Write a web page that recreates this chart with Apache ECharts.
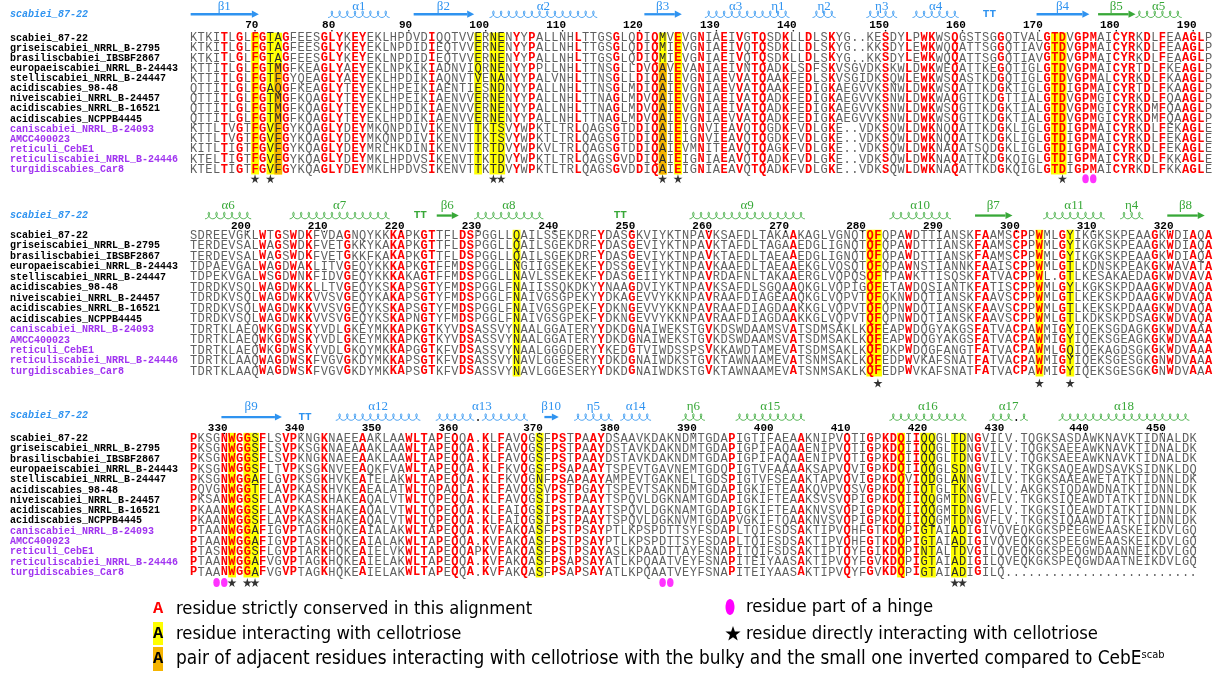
<!DOCTYPE html>
<html>
<head>
<meta charset="utf-8">
<title>CebE alignment</title>
<script src="https://cdn.jsdelivr.net/npm/echarts/dist/echarts.min.js"></script>
<style>
  html, body { margin: 0; padding: 0; background: #fff; }
  #chart { width: 1219px; height: 674px; }
</style>
</head>
<body>
<div id="chart"></div>
<script>
'use strict';

// sequences, in the order of the alignment
var NAMES = [
    'scabiei_87-22', 'griseiscabiei_NRRL_B-2795', 'brasiliscbabiei_IBSBF2867',
    'europaeiscabiei_NRRL_B-24443', 'stelliscabiei_NRRL_B-24447', 'acidiscabies_98-48',
    'niveiscabiei_NRRL_B-24457', 'acidiscabies_NRRL_B-16521', 'acidiscabies_NCPPB4445',
    'caniscabiei_NRRL_B-24093', 'AMCC400023', 'reticuli_CebE1',
    'reticuliscabiei_NRRL_B-24446', 'turgidiscabies_Car8'
];
var GROUPS = [0, 0, 0, 0, 0, 0, 0, 0, 0, 1, 1, 1, 1, 1];
var REFERENCE = 'scabiei_87-22';
var FIRST_RESIDUE = 62;

var BLOCK1 = [
    'KTKITLGLFGTAGFEESGLYKEYEKLHPDVDIQQTVVERNENYYPALLNHLTTGSGLQDIQMVEVGNIAEIVGTQSDKLLDLSKYG..KESDYLPWKWSQGSTSGGQTVALGTDVGPMAICYRKDLFEAAGLP',
    'KTKITLGLFGTAGFEESGLYKEYEKLNPDIDIEQTVVERNENYYPALLNHLTTGSGLQDIQMIEVGNIAEIVQTQSDKLLDLSKYG..KKSDYLEWKWQQATTSGGQTIAVGTDVGPMAICYRKDLFEAAGLP',
    'KTKITLGLFGTAGFEESGLYKEYEKLNPDIDIEQTVVERNENYYPALLNHLTTGSGLQDIQMIEVGNIAEIVQTQSDKLLDLSKYG..KKSDYLEWKWQQATTSGGQTIAVGTDVGPMAICYRKDLFEAAGLP',
    'KTTITLGLFGTMGFKEAGLYAEYEKLNPKIKIADNVIQRNENYYPPLLNHLTTNSGLLDVQAVEVANIAEIVNTQADKLSDFSKVSGVDKSKWLDWKWEQATTKEGQTIGLGTDVGPMAICYRTDLFKEAGLP',
    'KTTITLGLFGTFGYQEAGLYAEYEKLHPDIKIAQNVTVENANYYPALVNHLTTNSGLLDIQAIEVGNIAEVVATQAAKFEDLSKVSGIDKSQWLEWKWSQASTKDGQTIGLGTDVGPMALCYRKDLFKAAGLP',
    'QTTITLGLFGAQGFKEAGLYTEYEKLHPEIKIAENTIESNDNYYPALLNHLTTNSGLMDIQAIEVGNIAEVVATQAAKFEDIGKAEGVVKSNWLDWKWSQATTKDGKTIGLGTDIGPMAICYRTDLFKAAGLP',
    'QTTITLGLFGTMGFKQAGLYTEYEKLHPEIKIAENVVERNENYYPALLNHLTTNAGLMDVQAIEVGNIAEIVATQADKFEDIGKAEGVVKSNWLDWKWAQGTTKDGTTIALGTDVGPMGICYRKDLFQAAGLP',
    'QTTITLGLFGTMGFKQAGLYTEYEKLHPDIKIAENVVERNENYYPALLNHLTTNAGLMDVQAIEVGNIAEIVATQADKFEDIGKAEGVVKSNWLDWKWSQGTTKDGKTIALGTDVGPMGICYRKDMFQAAGLP',
    'QTTITLGLFGTMGFKQAGLYTEYEKLHPDIKIAENVVERNENYYPALLNHLTTNAGLMDVQAIEVGNIAEVVATQADKFEDIGKAEGVVKSNWLDWKWSQGTTKDGKTIALGTDVGPMGICYRKDMFQAAGLP',
    'KTTLTVGTFGVFGYKQAGLYDEYMKQNPDIVIKENVTTKTSVYWPKTLTRLQAGSGTDDIQAIEIGNVIEAVQTQGDKFVDLGKE..VDKSQWLDWKNQQATTKDGKLIGLGTDIGPMAICYRKDLFEKAGLE',
    'KTTLTVGTFGVFGYKQAGLYDEYMKQNPDIVIKENVTTKTSVYWPKTLTRLQAGSGTDDIQAIEIGNVIEAVQTQGDKFVDLGKE..VDKSQWLDWKNQQATTKDGKLIGLGTDIGPMAICYRKDLFEKAGLE',
    'KITLTIGTFGVFGYKQAGLYDEYMRLHKDINIKENVTTRTDVYWPKVLTRLQAGSGTDDIQAIEVMNITEAVQTQAGKFVDLGKE..VDKSQWLDWKNAQATSQDGKLIGLGTDIGPMAICYRKDLFEKAGLE',
    'KTELTIGTFGVFGYKQAGLYDEYMKLHPDVSIKENVTTKTDVYWPKTLTRLQAGSGVDDIQAIEIGNIAEAVQTQADKFVDLGKE..VDKSQWLDWKNAQATTKDGKQIGLGTDIGPMAICYRKDLFKKAGLE',
    'KTELTIGTFGVFGYKQAGLYDEYMKLHPDVSIKENVTTKTDVYWPKTLTRLQAGSGVDDIQAIEIGNIAEAVQTQADKFVDLGKE..VDKSQWLDWKNAQATTKDGKQIGLGTDIGPMAICYRKDLFKKAGLE'
];
var BLOCK2 = [
    'SDREEVGKLWTGSWDKFVDAGNQYKKKAPKGTTFLDSPGGLLQAILSSEKDRFYDASGKVIYKTNPAVKSAFDLTAKAAKAGLVGNQTQFQPAWDTTIANSKFAAMSCPPWMLGYIKGKSKPEAAGKWDIAQA',
    'TERDEVSALWAGSWDKFVETGKKYKAKAPKGTTFLDSPGGLLQAILSGEKDRFYDASGEVIYKTNPAVKTAFDLTAGAAEDGLIGNQTQFQPAWDTTIANSKFAAMSCPPWMLGYIKGKSKPEAAGKWDIAQA',
    'TERDEVSALWAGSWDKFVETGKKFKAKAPKGTTFLDSPGGLLQAILSGEKDRFYDASGEVIYKTNPAVKTAFDLTAEAAEDGLIGNQTQFQPAWDTTIANSKFAAMSCPPWMLGYIKGKSKPEAAGKWDIAQA',
    'TDPAEVGALWAGDWAKLITVGEQYKKKAPKGTFFMDSPGGLLNGIIGSEKEKFYDSSGEVIYKTNPAVKAAFDLTAEAAEKGLVQSQTQFQPAWNSTIANNKFAAISCPPWMLGTLKDNSKPEAKGKWAVATA',
    'TDPEKVGALWSGDWNKFIDVGEQYKKKAKAGTFFMDSPGGLLNAVLSSEKEKFYDASGEIIYKTNPAVRDAFNLTAKAAERGLVQPQSQFTPAWKTTISQSKFATVACPPWL.GTLKESAKAEDAGKWDVAVA',
    'TDRDKVSQLWAGDWKKLLTVGEQYKSKAPSGTYFMDSPGGLFNAIISSQKDKYYNAAGDVIYKTNPAVKSAFDLSGQAAQKGLVQPIGQFETAWDQSIANTKFATISCPPWMLGYLKGKSKPDAAGKWDVAQA',
    'TDRDKVSQLWAGDWKKVVSVGEQYKAKAPSGTYFMDSPGGLFNAIVGSGPEKYYDKAGEVVYKKNPAVRAAFDIAGEAAQKGLVQPVTQFQKNWDQTIANSKFAAVSCPPWMLGTLKEKSKPDAAGKWDVAQA',
    'TDRDKVSQLWAGDWKKVVSVGEQYKSKAPSGTYFMDSPGGLFNAIVGSGPEKFYDKNGEVVYKKNPAVRAAFDIAGDAAKKGLVQPVTQFQPNWDQTIANSKFAAVSCPPWMLGTLKEKSKPDAAGKWDVAQA',
    'TDRDKVSQLWAGDWKKVVSVGEQYKSKAPNGTYFMDSPGGLFNAIVGSGPEKFYDKNGEVVYKKNPAVRAAFDIAGDAAKKGLVQPVTQFQPNWDQTIANSKFAAVSCPPWMLGTLKDKSKPDSAGKWDVAQA',
    'TDRTKLAEQWKGDWSKYVDLGKEYMKKAPKGTKYVDSASSVYNAALGGATERYYDKDGNAIWEKSTGVKDSWDAAMSVATSDMSAKLKQFEAPWDQGYAKGSFATVACPAWMIGYIQEKSGDAGKGKWDVAAA',
    'TDRTKLAEQWKGDWSKYVDLGKEYMKKAPKGTKYVDSASSVYNAALGGATERYYDKDGNAIWEKSTGVKDSWDAAMSVATSDMSAKLKQFEAPWDQGYAKGSFATVACPAWMIGYIQEKSGEAGKGKWDVAAA',
    'TDRTKLAEQWKGDWSKYVDLGKQYMKKAPGGTKFVDSASSVYNAALGGGDERYYKEDGTVIWDSSPSVKKAWDTAMEVATSDMSAKLKQFDKPWDQGFANGTFATVACPAWMLGQIQEKAGDSGKGKWDVAAA',
    'TDRTKLAAQWAGDWSKFVGVGKDYMKKAPSGTKFVDSASSVYNAVLGGESERYYDKDGNAIWDKSTGVKTAWNAAMEVATSNMSAKLKQFEDPWVKAFSNATFATVACPAWMIGYIQEKSGESGKGNWDVAAA',
    'TDRTKLAAQWAGDWSKFVGVGKDYMKKAPSGTKFVDSASSVYNAVLGGESERYYDKDGNAIWDKSTGVKTAWNAAMEVATSNMSAKLKQFEDPWVKAFSNATFATVACPAWMIGYIQEKSGESGKGNWDVAAA'
];
var BLOCK3 = [
    'PKSGNWGGSFLSVPKNGKNAEEAAKLAAWLTAPEQQA.KLFAVQGSFPSTPAAYDSAAVKDAKNDMTGDAPIGTIFAEAAKNIPVQTIGPKDQIIQQGLTDNGVILV.TQGKSASDAWKNAVKTIDNALDK',
    'PKSGNWGGSFLSVPKSGKNAEAAAKLAAWLTAPEQQA.KLFAVQGSFPSTPAAYDSTAVKDAKNDMTGDAPIGPIFAQAAENIPVQTIGPKDQIIQQGLTDNGVILV.TQGKSAEEAWKNAVKTIDNALDK',
    'PKSGNWGGSFLSVPKNGKNAEEAAKLAAWLTAPEQQA.KLFAVQGSFPSTPAAYDSTAVKDAKNDMTGDAPIGPIFAQAAENIPVQTIGPKDQIIQQGLTDNGVILV.TQGKSAEEAWKNAVKTIDNALDK',
    'PKSGNWGGSFLTVPKSGKNVEEAQKFVAWLTAPEQQA.KLFKVQGSFPSAPAAYTSPEVTGAVNEMTGDQPIGTVFAAAAKSAPVQVIGPKDQIIQQGLSDNGVILV.TKGKSAQEAWDSAVKSIDNKLDQ',
    'PKSGNWGGAFLGVPKSGKHVKEATELAKWLTAPEQQA.KLFKVQGNFPSAPAAYAMPEVTGAKNELTGDSPIGTVFSEAAKTAPVQVIGPKDQVIQDGLANNGVILV.TKGKSAAEAWETATKTIDNNLDK',
    'PQVGNWGGTFLAVPKASKHVKEAEALATWLTQPAQLA.KLFAVQGSVPSTPGAYTSPEVTSAKNDMTGDAPIGKIFTEAAKQVPVQSVGPKDQIIQTGLTKNGVLLV.AKGKSIQDAWDNATKTIDNNLDK',
    'PKSANWGGSFLAVPKASKHAKEAQALVTWLTQPEQQA.KLFAVQGSIPSTPAAYTSPQVLDGKNAMTGDAPIGKIFTEAAKSVSVQPIGPKDQIIQQGMTDNGVFLV.TKGKSIQEAWDTATKTIDNNLDK',
    'PKAANWGGSFLAVPKASKHAKEAQALVTWLTQPEQQA.KLFAIQGSIPSTPAAYTSPQVLDGKNAMTGDAPIGKIFTEAAKNVSVQPIGPKDQIIQQGMTDNGVFLV.TKGKSIQEAWDTATKTIDNNLDK',
    'PKAANWGGSFLAVPKASKHAKEAQALVTWLTQPEQQA.KLFAIQGSIPSTPAAYTSPQVLDGKNVMTGDAPVGKIFTQAAKNVSVQPIGPKDQIIQQGMTDNGVFLV.TKGKSIQAAWDTATKTIDNNLDK',
    'PTAANWGGAFIGVPTAGKHQKEAIALAKWLTAPEQQA.KVFAKQASFPSTPSAYPTLKPSPDTTSYFSDAPLTQIFSDSAKTIPVQHFGTKDQPIGTAIADIGIVQVEQKGKSPEEGWEAASKEIKDVLGQ',
    'PTAANWGGAFIGVPTASKHQKEAIALAKWLTAPEQQA.KVFAKQASFPSTPSAYPTLKPSPDTTSYFSDAPLTQIFSDSAKTIPVQHFGTKDQPIGTAIADIGIVQVEQKGKSPEEGWEAASKEIKDVLGQ',
    'PTASNWGGSFLGVPTARKHQKEAIELVKWLTAPEQQAPKVFAKQASFPSTPSAYASLKPAADTTAYFSNAPITQIFSDSAKTIPTQYFGIKDQPINTALTDVGILQVEQKGKSPEQGWDAANNEIKDVLGQ',
    'PTAANWGGAFVGVPTAGKHQKEAIELAKWLTAPEQQA.KVFAKQASFPSAPSAYATLKPQAATVEYFSNAPITEIYAASAKTIPVQYFGVKDQPIGTAIADIGILQVEQKGKSPEQGWDAATNEIKDVLGQ',
    'PTAANWGGAFVGVPTAGKHQKEAIELAKWLTAPEQQA.KVFAKQASFPSAPSAYATLKPQAATVEYFSNAPITEIYAASAKTIPVQYFGVKDQPIGTAIADIGILQ.........................'
];

// secondary structure of the reference: [kind, first column, last column, label, 0 = blue / 1 = green]
var SS1 = [
    ['beta', 0, 8, 'β1', 0], ['helix', 18, 25, 'α1', 0], ['beta', 29, 36, 'β2', 0],
    ['helix', 39, 52, 'α2', 0], ['beta', 59, 63, 'β3', 0], ['helix', 67, 74, 'α3', 0],
    ['helix', 75, 77, 'η1', 0], ['helix', 81, 83, 'η2', 0], ['helix', 88, 91, 'η3', 0],
    ['helix', 94, 99, 'α4', 0], ['turn', 103, 104, '', 0], ['beta', 110, 116, 'β4', 0],
    ['beta', 118, 122, 'β5', 1], ['helix', 123, 128, 'α5', 1]
];
var SS2 = [
    ['helix', 2, 7, 'α6', 1], ['helix', 13, 25, 'α7', 1], ['turn', 29, 30, '', 1],
    ['beta', 32, 34, 'β6', 1], ['helix', 37, 45, 'α8', 1], ['turn', 55, 56, '', 1],
    ['helix', 65, 79, 'α9', 1], ['helix', 91, 98, 'α10', 1], ['beta', 102, 106, 'β7', 1],
    ['helix', 111, 118, 'α11', 1], ['helix', 121, 123, 'η4', 1], ['beta', 127, 131, 'β8', 1]
];
var SS3 = [
    ['beta', 4, 11, 'β9', 0], ['turn', 14, 15, '', 0], ['helix', 19, 29, 'α12', 0],
    ['helix', 32, 43, 'α13', 0], ['beta', 46, 47, 'β10', 0], ['helix', 50, 54, 'η5', 0],
    ['helix', 56, 59, 'α14', 0], ['helix', 64, 66, 'η6', 1], ['helix', 71, 79, 'α15', 1],
    ['helix', 91, 100, 'α16', 1], ['helix', 104, 108, 'α17', 1], ['helix', 113, 129, 'α18', 1]
];

// columns interacting with cellotriose, per block
var YELLOW_COLS = [[8, 10, 11, 37, 39, 40, 61, 63, 112, 113], [42, 88, 89, 110, 114], [5, 7, 8, 45, 92, 95, 96, 99, 100]];
// inverted bulky/small pairs: [column, first row, last row]
var ORANGE_CELLS = [[[11, 3, 13], [61, 3, 13]], [], []];
var STAR_COLS = [[8, 10, 39, 40, 61, 63, 113], [89, 110, 114], [5, 7, 8, 99, 100]];
var HINGE_COLS = [[116, 117], [], [3, 4, 61, 62]];

// ---- layout / style ----
var BLOCKS = [BLOCK1, BLOCK2, BLOCK3];
var SS = [SS1, SS2, SS3];
var COL_W = 7.69;
var X_MIN = -24, X_MAX = 132.5;
var Y_MIN = -3.6, Y_MAX = 14.6;
var GRID_LEFT = 8.94;
var LAYOUT = [
    { y0: 37.7, rowH: 10.1, label: -31, shape: -23.5, num: -12.5, title: -23.5, marks: 141 },
    { y0: 235, rowH: 10.45, label: -29.5, shape: -19.5, num: -9, title: -20, marks: 148 },
    { y0: 438, rowH: 10.3, label: -31, shape: -21, num: -10, title: -23, marks: 144.5 }
];
var MONO = '"Liberation Mono", "DejaVu Sans Mono", monospace';
var BLUE = '#2f93f0', GREEN = '#38a838', PURPLE = '#a034f0', RED = '#ff0000', GRAY = '#5f5f5f';
var YELLOW_FILL = '#ffff00', ORANGE_FILL = '#f5b400';
var STAR_PATH = 'path://M50,0 L61,35 98,35 68,57 79,91 50,70 21,91 32,57 2,35 39,35 Z';
var LEGEND_FONT = '18.3px "Liberation Sans Narrow", "DejaVu Sans Condensed", sans-serif';

function textEl(x, y, text, font, fill, align) {
    return {
        type: 'text', x: x, y: y,
        style: { text: text, font: font, fill: fill, align: align || 'center', verticalAlign: 'middle' }
    };
}

function starPoints(cx, cy, R) {
    var pts = [];
    for (var i = 0; i < 10; i++) {
        var ang = -Math.PI / 2 + i * Math.PI / 5;
        var rr = i % 2 ? R * 0.4 : R;
        pts.push([cx + rr * Math.cos(ang), cy + rr * Math.sin(ang)]);
    }
    return pts;
}

function isConserved(seqs, c) {
    var ch = seqs[0].charAt(c);
    if (ch === '.') return false;
    for (var i = 1; i < seqs.length; i++) if (seqs[i].charAt(c) !== ch) return false;
    return true;
}

var grids = [], xAxes = [], yAxes = [], series = [];
var blockStart = FIRST_RESIDUE;

BLOCKS.forEach(function (seqs, b) {
    var L = LAYOUT[b];
    var rowOf = function (px) { return px / L.rowH; };
    grids.push({ left: GRID_LEFT, width: (X_MAX - X_MIN) * COL_W, top: L.y0 + Y_MIN * L.rowH, height: (Y_MAX - Y_MIN) * L.rowH });
    xAxes.push({ type: 'value', gridIndex: b, min: X_MIN, max: X_MAX, show: false });
    yAxes.push({ type: 'value', gridIndex: b, min: Y_MIN, max: Y_MAX, inverse: true, show: false });
    var base = { type: 'custom', xAxisIndex: b, yAxisIndex: b, silent: true, animation: false };

    // highlighted cells
    var cells = [], hl = {};
    YELLOW_COLS[b].forEach(function (c) {
        seqs.forEach(function (s, r) { cells.push([c, r, 0]); hl[c + '_' + r] = 1; });
    });
    ORANGE_CELLS[b].forEach(function (o) {
        for (var r = o[1]; r <= o[2]; r++) cells.push([o[0], r, 1]);
    });
    series.push(Object.assign({}, base, {
        data: cells,
        renderItem: function (params, api) {
            var p = api.coord([api.value(0) - 0.5, api.value(1) - 0.5]);
            var s = api.size([1, 1]);
            return { type: 'rect', shape: { x: p[0], y: p[1], width: s[0] + 0.2, height: s[1] + 0.4 },
                style: { fill: api.value(2) ? ORANGE_FILL : YELLOW_FILL } };
        }
    }));

    // residues
    var cons = [];
    for (var c = 0; c < seqs[0].length; c++) cons.push(isConserved(seqs, c) ? 1 : 0);
    var resData = [];
    seqs.forEach(function (s, r) {
        for (var c = 0; c < s.length; c++) resData.push([c, r, cons[c], hl[c + '_' + r] ? 1 : 0]);
    });
    series.push(Object.assign({}, base, {
        data: resData,
        renderItem: function (params, api) {
            var c = api.value(0), r = api.value(1);
            var p = api.coord([c, r]);
            var bold = api.value(2) === 1;
            return textEl(p[0], p[1] + 0.5, seqs[r].charAt(c),
                (bold ? 'bold ' : '') + '12px ' + MONO,
                bold ? RED : (api.value(3) ? '#2a2a2a' : GRAY));
        }
    }));

    // sequence names and block title
    series.push(Object.assign({}, base, {
        data: NAMES.map(function (n, r) { return [X_MIN, r, GROUPS[r]]; }),
        renderItem: function (params, api) {
            var p = api.coord([api.value(0), api.value(1)]);
            return textEl(p[0] + 1, p[1] + 0.5, NAMES[params.dataIndex], 'bold 10px ' + MONO,
                api.value(2) ? PURPLE : '#000', 'left');
        }
    }));
    series.push(Object.assign({}, base, {
        data: [[X_MIN, rowOf(L.title)]],
        renderItem: function (params, api) {
            var p = api.coord([api.value(0), api.value(1)]);
            return textEl(p[0] + 1, p[1], REFERENCE, 'italic bold 10px ' + MONO, BLUE, 'left');
        }
    }));

    // secondary structure
    var ss = SS[b];
    series.push(Object.assign({}, base, {
        data: ss.map(function (e) { return [e[1], e[2], e[4]]; }),
        renderItem: function (params, api) {
            var e = ss[params.dataIndex];
            var color = api.value(2) ? GREEN : BLUE;
            var a = api.coord([api.value(0) - 0.5, rowOf(L.shape)]);
            var z = api.coord([api.value(1) + 0.5, rowOf(L.shape)]);
            var w = api.size([1, 1])[0];
            var kids = [];
            if (e[0] === 'beta') {
                var head = Math.min(7, (z[0] - a[0]) * 0.45);
                kids.push({ type: 'rect', shape: { x: a[0] + 1, y: a[1] - 1.1, width: z[0] - a[0] - head - 1, height: 2.3 }, style: { fill: color } });
                kids.push({ type: 'polygon', shape: { points: [[z[0] - head, a[1] - 3.6], [z[0], a[1]], [z[0] - head, a[1] + 3.6]] }, style: { fill: color } });
            } else if (e[0] === 'helix') {
                var pts = [];
                var flush = function () {
                    if (pts.length) kids.push({ type: 'polyline', shape: { points: pts }, style: { stroke: color, lineWidth: 0.85, fill: null } });
                    pts = [];
                };
                for (var c = e[1]; c <= e[2]; c++) {
                    var xl = a[0] + (c - e[1]) * w;
                    if (seqs[0].charAt(c) === '.') {
                        flush();
                        kids.push({ type: 'circle', shape: { cx: xl + w / 2, cy: a[1] + 3, r: 0.9 }, style: { fill: '#000' } });
                        continue;
                    }
                    for (var k = 0; k <= 16; k++) {
                        var t = 2 * Math.PI * k / 16;
                        pts.push([xl + w * k / 16 + 2.3 * Math.sin(t), a[1] + 3.3 * Math.cos(t)]);
                    }
                }
                flush();
            } else {
                kids.push(textEl((a[0] + z[0]) / 2, a[1], 'TT', 'bold 11px ' + MONO, color));
            }
            if (e[3]) {
                var lp = api.coord([(api.value(0) + api.value(1)) / 2, rowOf(L.label)]);
                kids.push(textEl(lp[0], lp[1], e[3], '13px "Liberation Serif", "DejaVu Serif", serif', color));
            }
            return { type: 'group', children: kids };
        }
    }));

    // residue numbering of the reference sequence
    var ticks = [], n = blockStart;
    for (var c = 0; c < seqs[0].length; c++) {
        if (seqs[0].charAt(c) === '.') continue;
        if (n % 10 === 0) ticks.push([c, rowOf(L.num), n]);
        n++;
    }
    blockStart = n;
    series.push(Object.assign({}, base, {
        data: ticks,
        renderItem: function (params, api) {
            var p = api.coord([api.value(0), api.value(1)]);
            return { type: 'group', children: [
                textEl(p[0] + 3.4, p[1], String(api.value(2)), 'bold 11px ' + MONO, '#000', 'right'),
                { type: 'circle', shape: { cx: p[0], cy: p[1] + 5.5, r: 0.8 }, style: { fill: '#000' } }
            ] };
        }
    }));

    // stars and hinge dots below the block
    series.push({
        type: 'scatter', xAxisIndex: b, yAxisIndex: b, silent: true, animation: false,
        symbol: STAR_PATH, symbolSize: 9, itemStyle: { color: '#000' },
        data: STAR_COLS[b].map(function (c) { return [c, rowOf(L.marks)]; })
    });
    series.push({
        type: 'scatter', xAxisIndex: b, yAxisIndex: b, silent: true, animation: false,
        symbol: 'circle', symbolSize: [6.5, 9], itemStyle: { color: '#ff00ff' },
        data: HINGE_COLS[b].map(function (c) { return [c, rowOf(L.marks)]; })
    });
});

var legendText = function (x, y, text) {
    return { type: 'text', x: x, y: y, style: { text: text, font: LEGEND_FONT, fill: '#000', verticalAlign: 'middle' } };
};

var chart = echarts.init(document.getElementById('chart'));
chart.setOption({
    animation: false,
    backgroundColor: '#fff',
    grid: grids,
    xAxis: xAxes,
    yAxis: yAxes,
    series: series,
    graphic: [
        textEl(158, 609, 'A', 'bold 17px ' + MONO, RED),
        legendText(176, 609, 'residue strictly conserved in this alignment'),
        { type: 'rect', shape: { x: 153, y: 622, width: 10, height: 23 }, style: { fill: YELLOW_FILL } },
        textEl(158, 634, 'A', 'bold 17px ' + MONO, '#000'),
        legendText(176, 634, 'residue interacting with cellotriose'),
        { type: 'rect', shape: { x: 153, y: 647, width: 10, height: 24 }, style: { fill: ORANGE_FILL } },
        textEl(158, 659, 'A', 'bold 17px ' + MONO, '#000'),
        {
            type: 'text', x: 176, y: 659,
            style: {
                text: '{t|pair of adjacent residues interacting with cellotriose with the bulky and the small one inverted compared to CebE}{s|scab}',
                verticalAlign: 'middle',
                rich: {
                    t: { font: '18.9px "Liberation Sans Narrow", "DejaVu Sans Condensed", sans-serif', fill: '#000' },
                    s: { font: '11px "Liberation Sans Narrow", "DejaVu Sans Condensed", sans-serif', fill: '#000', verticalAlign: 'top' }
                }
            }
        },
        { type: 'ellipse', shape: { cx: 730, cy: 607, rx: 4.5, ry: 8 }, style: { fill: '#ff00ff' } },
        legendText(746, 607, 'residue part of a hinge'),
        { type: 'polygon', shape: { points: starPoints(733, 634, 8) }, style: { fill: '#000' } },
        legendText(746, 634, 'residue directly interacting with cellotriose')
    ]
});
</script>
</body>
</html>
